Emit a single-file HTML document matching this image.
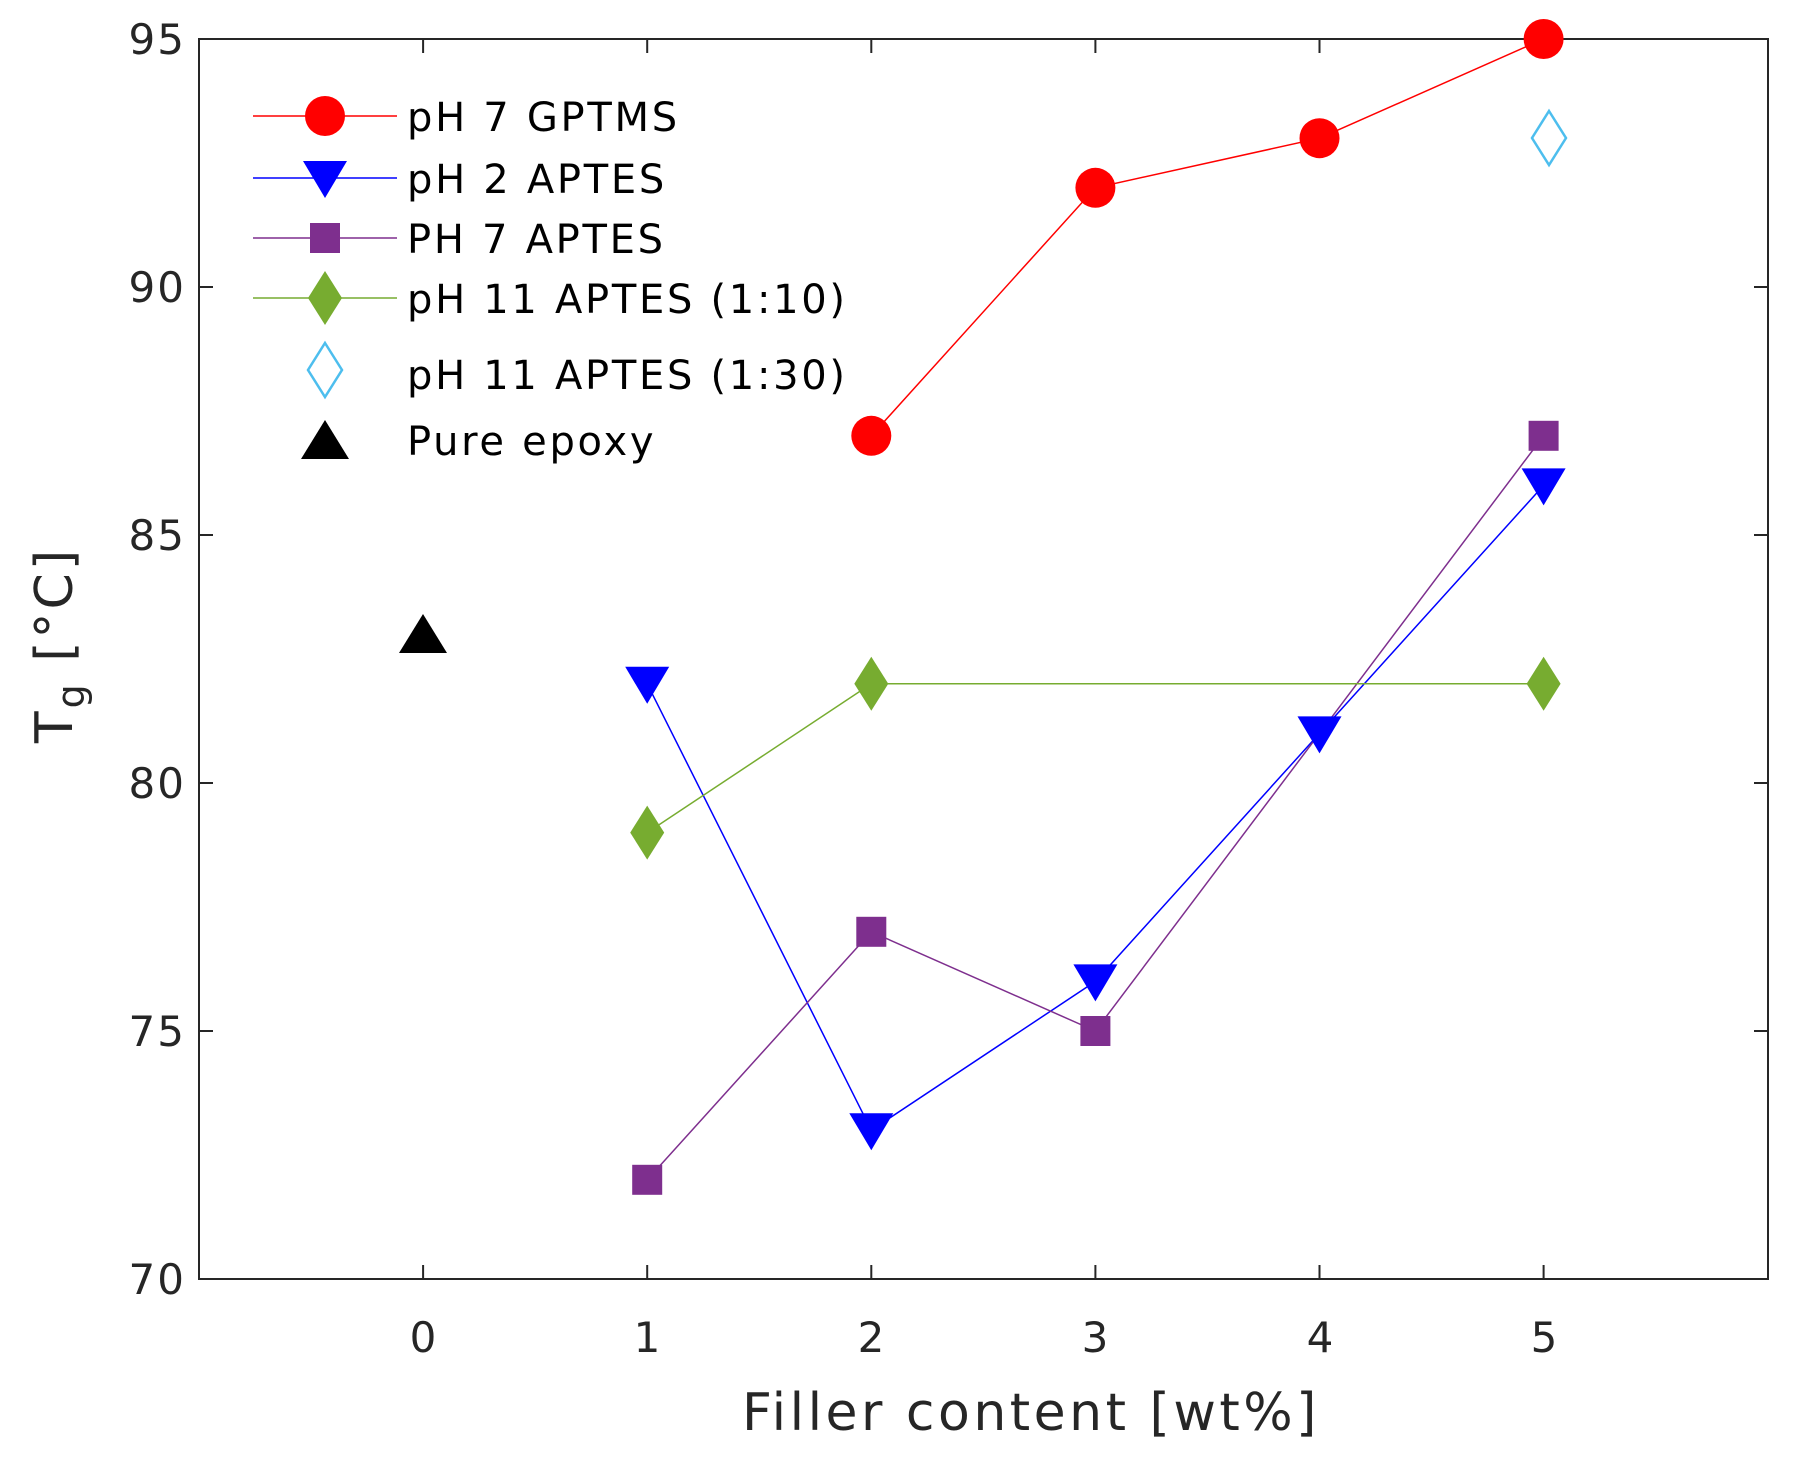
<!DOCTYPE html>
<html><head><style>body{margin:0;background:#fff}svg{display:block}</style></head><body>
<svg width="1793" height="1464" xmlns="http://www.w3.org/2000/svg" font-family="DejaVu Sans, Liberation Sans, sans-serif">
<defs>
<circle id="c" r="20" fill="#ff0000"/>
<path id="t" d="M-22,-17 L22,-17 L0,20 Z" fill="#0000ff"/>
<rect id="s" x="-15" y="-15" width="30" height="30" fill="#7e2f8e"/>
<path id="d" d="M0,-27 L17,0 L0,27 L-17,0 Z" fill="#77ac30"/>
</defs>
<rect x="199" y="39" width="1569" height="1240" fill="none" stroke="#262626" stroke-width="2"/>
<g stroke="#262626" stroke-width="2">
<path d="M423.1,1279v-14M647.2,1279v-14M871.3,1279v-14M1095.4,1279v-14M1319.5,1279v-14M1543.6,1279v-14M423.1,39v14M647.2,39v14M871.3,39v14M1095.4,39v14M1319.5,39v14M1543.6,39v14"/>
<path d="M199,39h14M199,287h14M199,535h14M199,783h14M199,1031h14M199,1279h14M1768,39h-14M1768,287h-14M1768,535h-14M1768,783h-14M1768,1031h-14M1768,1279h-14"/>
</g>
<g font-size="42" fill="#262626" text-anchor="end" letter-spacing="2">
<text x="186" y="54">95</text><text x="186" y="302">90</text><text x="186" y="550">85</text><text x="186" y="798">80</text><text x="186" y="1046">75</text><text x="186" y="1294">70</text>
</g>
<g font-size="42" fill="#262626" text-anchor="middle">
<text x="423" y="1352">0</text><text x="647" y="1352">1</text><text x="871" y="1352">2</text><text x="1095" y="1352">3</text><text x="1320" y="1352">4</text><text x="1544" y="1352">5</text>
<text x="1031" y="1430" font-size="52" letter-spacing="3.5">Filler content [wt%]</text>
</g>
<text transform="translate(72,645) rotate(-90)" font-size="52" fill="#262626" text-anchor="middle" letter-spacing="3">T<tspan font-size="38" dy="12">g</tspan><tspan dy="-12"> [°C]</tspan></text>
<polyline points="871.3,435.8 1095.4,187.8 1319.5,138.2 1543.6,39" fill="none" stroke="#ff0000" stroke-width="1.5"/>
<polyline points="647.2,683.8 871.3,1130.2 1095.4,981.4 1319.5,733.4 1543.6,485.4" fill="none" stroke="#0000ff" stroke-width="1.5"/>
<polyline points="647.2,1179.8 871.3,931.8 1095.4,1031 1319.5,733.4 1543.6,435.8" fill="none" stroke="#7e2f8e" stroke-width="1.5"/>
<polyline points="647.2,832.6 871.3,683.8 1543.6,683.8" fill="none" stroke="#77ac30" stroke-width="1.5"/>
<use href="#c" x="871.3" y="435.8"/><use href="#c" x="1095.4" y="187.8"/><use href="#c" x="1319.5" y="138.2"/><use href="#c" x="1543.6" y="39"/>
<use href="#t" x="647.2" y="683.8"/><use href="#t" x="871.3" y="1130.2"/><use href="#t" x="1095.4" y="981.4"/><use href="#t" x="1319.5" y="733.4"/><use href="#t" x="1543.6" y="485.4"/>
<use href="#s" x="647.2" y="1179.8"/><use href="#s" x="871.3" y="931.8"/><use href="#s" x="1095.4" y="1031"/><use href="#s" x="1543.6" y="435.8"/>
<use href="#d" x="647.2" y="832.6"/><use href="#d" x="871.3" y="683.8"/><use href="#d" x="1543.6" y="683.8"/>
<path d="M1549,111 L1566,138 L1549,165 L1532,138 Z" fill="none" stroke="#4dbeee" stroke-width="2.5"/>
<path d="M423,614 L447,653 L399,653 Z" fill="#000"/>
<g stroke-width="1.5">
<line x1="253" y1="116" x2="397" y2="116" stroke="#ff0000"/>
<line x1="253" y1="178" x2="397" y2="178" stroke="#0000ff"/>
<line x1="253" y1="238" x2="397" y2="238" stroke="#7e2f8e"/>
<line x1="253" y1="298" x2="397" y2="298" stroke="#77ac30"/>
</g>
<use href="#c" x="325" y="116"/><use href="#t" x="325" y="178"/><use href="#s" x="325" y="238"/><use href="#d" x="325" y="298"/>
<path d="M325,343 L342,370 L325,397 L308,370 Z" fill="none" stroke="#4dbeee" stroke-width="2.5"/>
<path d="M325,420 L349,459 L301,459 Z" fill="#000"/>
<g font-size="40" fill="#000" letter-spacing="2.7">
<text x="407" y="131">pH 7 GPTMS</text>
<text x="407" y="193">pH 2 APTES</text>
<text x="407" y="253">PH 7 APTES</text>
<text x="407" y="313">pH 11 APTES (1:10)</text>
<text x="407" y="389">pH 11 APTES (1:30)</text>
<text x="407" y="455">Pure epoxy</text>
</g>
</svg>
</body></html>
